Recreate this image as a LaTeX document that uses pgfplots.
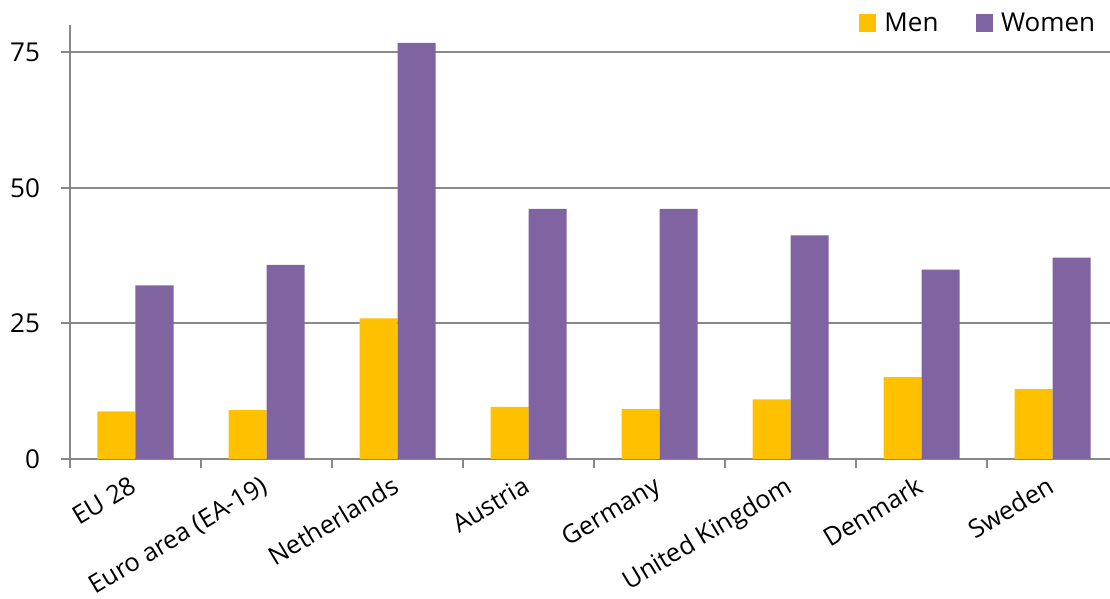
\documentclass[border=0pt]{standalone}
\usepackage{pgfplots}
\pgfplotsset{compat=1.18}
\usepackage{fontspec}
\setmainfont{Open Sans}
\definecolor{men}{HTML}{FFC000}
\definecolor{women}{HTML}{8064A2}
\definecolor{axgray}{HTML}{888888}
\begin{document}
\begin{tikzpicture}[x=0.75pt,y=0.75pt]
\path[use as bounding box] (-52.5pt,-105pt) rectangle (780pt,344.25pt);
\begin{axis}[
  name=ax,
  scale only axis,
  width=786pt, height=325.5pt,
  ybar=0pt, bar width=28.5pt,
  xmin=-0.5, xmax=7.5, ymin=0, ymax=80,
  axis x line*=bottom, axis y line*=left,
  axis line style={axgray, line width=1.5pt},
  xtick={0,...,7},
  xticklabels={EU 28, Euro area (EA-19), Netherlands, Austria, Germany, United Kingdom, Denmark, Sweden},
  major x tick style={draw=none},
  minor xtick={-0.5,0.5,...,6.5},
  minor x tick style={axgray, line width=1.5pt},
  minor tick length=7pt,
  ytick={0,25,50,75},
  major y tick style={axgray, line width=1.5pt},
  major tick length=7pt,
  tick align=outside,
  ymajorgrids, grid style={axgray, line width=1.5pt},
  tick label style={font=\fontsize{19.5}{23}\selectfont},
  x tick label style={xshift=-5pt, yshift=-4.7pt, rotate=31, anchor=north east, inner sep=0pt, font=\fontsize{19}{23}\selectfont},
  y tick label style={xshift=-12pt},
  /pgf/number format/assume math mode=true,
  legend columns=2,
  legend style={draw=none, at={(0.981,1.005)}, anchor=east, font=\fontsize{19.5}{23}\selectfont,
    /tikz/every even column/.append style={column sep=26pt},
    /tikz/every odd column/.append style={column sep=4pt}, inner sep=0pt},
  legend image code/.code={\fill[#1] (0pt,-6.5pt) rectangle (13pt,6.5pt);},
]
\addplot[fill=men, draw=none] coordinates {(0,8.8) (1,9.0) (2,25.9) (3,9.6) (4,9.2) (5,11.0) (6,15.1) (7,12.9)};
\addplot[fill=women, draw=none] coordinates {(0,32.0) (1,35.8) (2,76.7) (3,46.1) (4,46.1) (5,41.2) (6,34.9) (7,37.1)};
\legend{Men, Women}
\end{axis}
\end{tikzpicture}
\end{document}
